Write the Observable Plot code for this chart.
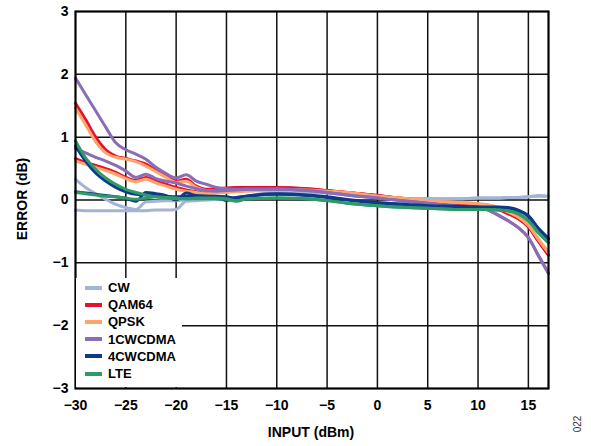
<!DOCTYPE html>
<html>
<head>
<meta charset="utf-8">
<script src="https://cdn.jsdelivr.net/npm/d3@7"></script>
<script src="https://cdn.jsdelivr.net/npm/@observablehq/plot@0.6"></script>
<style>
  body { margin: 0; background: #fff; }
  #wrap { position: relative; width: 591px; height: 446px; font-family: "Liberation Sans", Arial, sans-serif; }
  #legend { position: absolute; left: 76px; top: 278px; width: 106px; height: 109px; background: #fff; }
  .row { position: absolute; left: 0; height: 17px; display: flex; align-items: center; font-weight: bold; font-size: 13px; color: #000; }
  .sw { width: 17px; height: 4px; margin-left: 9px; margin-right: 6px; }
  .title { position: absolute; font-weight: bold; font-size: 14px; color: #000; white-space: nowrap; }
</style>
</head>
<body>
<div id="wrap"></div>
<script>
// ---- data ----
const series = ["CW", "QAM64", "QPSK", "1CWCDMA", "4CWCDMA", "LTE"];
const colors = ["#a3b4d4", "#e4122d", "#fca66e", "#8b6cb6", "#0e3a8a", "#2f9a68"];
const xs = [-30,-29,-28,-27,-26,-25,-24,-23,-22,-21,-20,-19,-18,-17,-16,-15,-14,-13,-10,-7,-5,-3,0,3,5,8,10,11,12,13,14,15,16,17];

const cwA     = [0.33,0.2,0.1,0.01,-0.07,-0.12,-0.15,-0.03,-0.02,-0.01,-0.01,0.0,0.0,0.01,0.02,0.03,0.04,0.06,0.13,0.13,0.12,0.09,0.05,0.02,0.02,0.02,0.03,0.03,0.03,0.04,0.04,0.05,0.07,0.06];
const cwB     = [-0.16,-0.17,-0.17,-0.17,-0.17,-0.17,-0.17,-0.17,-0.16,-0.16,-0.15,-0.02,-0.01,0.0,0.01,0.02,0.03,0.05,0.12,0.12,0.11,0.08,0.04,0.02,0.02,0.02,0.03,0.03,0.03,0.04,0.04,0.05,0.06,0.06];
const qam64A  = [1.54,1.28,1.0,0.8,0.7,0.66,0.62,0.57,0.47,0.38,0.3,0.33,0.22,0.17,0.18,0.19,0.2,0.2,0.2,0.18,0.15,0.12,0.07,0.02,-0.02,-0.06,-0.09,-0.1,-0.15,-0.22,-0.3,-0.43,-0.66,-0.88];
const qam64B  = [0.66,0.6,0.55,0.5,0.44,0.36,0.31,0.36,0.3,0.25,0.2,0.16,0.13,0.11,0.12,0.14,0.15,0.16,0.19,0.18,0.15,0.12,0.07,0.02,-0.02,-0.06,-0.09,-0.1,-0.14,-0.21,-0.29,-0.42,-0.65,-0.87];
const qpskA   = [1.46,1.2,0.93,0.75,0.68,0.65,0.61,0.54,0.45,0.36,0.28,0.3,0.2,0.15,0.14,0.14,0.14,0.15,0.17,0.16,0.14,0.12,0.06,0.02,-0.01,-0.04,-0.06,-0.08,-0.12,-0.19,-0.27,-0.4,-0.63,-0.84];
const qpskB   = [0.62,0.57,0.52,0.47,0.41,0.34,0.29,0.33,0.27,0.22,0.17,0.14,0.12,0.1,0.11,0.12,0.13,0.14,0.16,0.15,0.13,0.11,0.06,0.02,-0.01,-0.04,-0.06,-0.08,-0.12,-0.19,-0.27,-0.4,-0.62,-0.83];
const wcdma1A = [1.94,1.68,1.42,1.16,0.91,0.8,0.73,0.65,0.52,0.42,0.35,0.4,0.3,0.25,0.2,0.18,0.17,0.17,0.17,0.15,0.12,0.08,0.03,-0.02,-0.05,-0.1,-0.12,-0.16,-0.24,-0.33,-0.44,-0.6,-0.88,-1.16];
const wcdma1B = [0.82,0.75,0.68,0.62,0.55,0.46,0.36,0.41,0.34,0.3,0.27,0.22,0.18,0.15,0.14,0.15,0.16,0.17,0.17,0.15,0.12,0.08,0.03,-0.02,-0.05,-0.1,-0.12,-0.16,-0.24,-0.33,-0.44,-0.6,-0.89,-1.17];
const wcdma4A = [0.86,0.62,0.43,0.3,0.2,0.13,0.09,0.08,0.07,0.06,0.05,0.06,0.06,0.06,0.06,0.05,0.03,0.06,0.1,0.08,0.05,0.01,-0.04,-0.07,-0.09,-0.1,-0.11,-0.11,-0.11,-0.12,-0.16,-0.25,-0.45,-0.61];
const wcdma4B = [0.13,0.11,0.09,0.07,0.05,0.03,-0.02,0.12,0.1,0.07,0.0,0.11,0.07,0.06,0.05,-0.01,0.04,0.06,0.09,0.07,0.04,0.0,-0.05,-0.08,-0.1,-0.11,-0.12,-0.12,-0.12,-0.13,-0.17,-0.26,-0.46,-0.62];
const lteA    = [0.94,0.67,0.49,0.35,0.25,0.17,0.12,0.08,0.05,0.03,0.02,0.02,0.03,0.03,0.03,0.02,-0.01,0.02,0.03,0.02,-0.01,-0.05,-0.09,-0.12,-0.13,-0.15,-0.15,-0.15,-0.16,-0.17,-0.22,-0.33,-0.52,-0.68];
const lteB    = [0.12,0.1,0.08,0.06,0.05,0.03,0.01,0.03,0.05,0.04,0.03,0.02,0.02,0.02,0.02,0.01,-0.02,0.02,0.03,0.02,-0.01,-0.05,-0.09,-0.12,-0.13,-0.15,-0.15,-0.15,-0.16,-0.17,-0.22,-0.33,-0.52,-0.68];

const xTicks = [-30,-25,-20,-15,-10,-5,0,5,10,15];
const yTicks = [-3,-2,-1,0,1,2,3];
const xGrid = [-25,-20,-15,-10,-5,0,5,10,15];
const yGrid = [-2,-1,0,1,2];

// ---- build table ----
const runs = [
  ["CW", cwA], ["CW", cwB],
  ["QAM64", qam64A], ["QAM64", qam64B],
  ["QPSK", qpskA], ["QPSK", qpskB],
  ["1CWCDMA", wcdma1A], ["1CWCDMA", wcdma1B],
  ["4CWCDMA", wcdma4A], ["4CWCDMA", wcdma4B],
  ["LTE", lteA], ["LTE", lteB]
];
const rows = [];
runs.forEach(([name, vals], i) => vals.forEach((v, j) => rows.push({x: xs[j], y: v, series: name, run: i})));

const fmt = d => (d < 0 ? "\u2212" + Math.abs(d) : String(d));

const chart = Plot.plot({
  width: 591, height: 446,
  marginLeft: 75, marginRight: 43, marginTop: 11, marginBottom: 58,
  style: { fontFamily: "'Liberation Sans', Arial, sans-serif", fontSize: "14px", fontWeight: "bold", color: "#000", background: "#fff" },
  x: { domain: [-30, 17], ticks: xTicks, tickSize: 0, tickPadding: 12, tickFormat: fmt, label: null },
  y: { domain: [-3, 3], ticks: yTicks, tickSize: 0, tickPadding: 7, tickFormat: fmt, label: null },
  color: { domain: series, range: colors },
  marks: [
    Plot.ruleX(xGrid, { stroke: "#111", strokeWidth: 1.5 }),
    Plot.ruleY(yGrid, { stroke: "#111", strokeWidth: 1.5 }),
    Plot.line(rows, { x: "x", y: "y", z: "run", stroke: "series", strokeWidth: 3, curve: "monotone-x" }),
    Plot.frame({ stroke: "#000", strokeWidth: 2.2 })
  ]
});

const wrap = document.getElementById("wrap");
wrap.appendChild(chart);

// legend
const leg = document.createElement("div");
leg.id = "legend";
series.forEach((s, i) => {
  const r = document.createElement("div");
  r.className = "row";
  r.style.top = (1 + i * 17.2) + "px";
  r.innerHTML = `<span class="sw" style="background:${colors[i]}"></span><span>${s}</span>`;
  leg.appendChild(r);
});
wrap.appendChild(leg);

// axis titles
const xt = document.createElement("div");
xt.className = "title";
xt.textContent = "INPUT (dBm)";
xt.style.left = "311px"; xt.style.top = "424px"; xt.style.transform = "translateX(-50%)";
wrap.appendChild(xt);

const yt = document.createElement("div");
yt.className = "title";
yt.textContent = "ERROR (dB)";
yt.style.left = "22px"; yt.style.top = "199px"; yt.style.transform = "translate(-50%,-50%) rotate(-90deg)";
wrap.appendChild(yt);

const code = document.createElement("div");
code.className = "title";
code.textContent = "022";
code.style.fontWeight = "normal"; code.style.fontSize = "10px"; code.style.color = "#333";
code.style.left = "577px"; code.style.top = "424px"; code.style.transform = "translate(-50%,-50%) rotate(-90deg)";
wrap.appendChild(code);
</script>
</body>
</html>
